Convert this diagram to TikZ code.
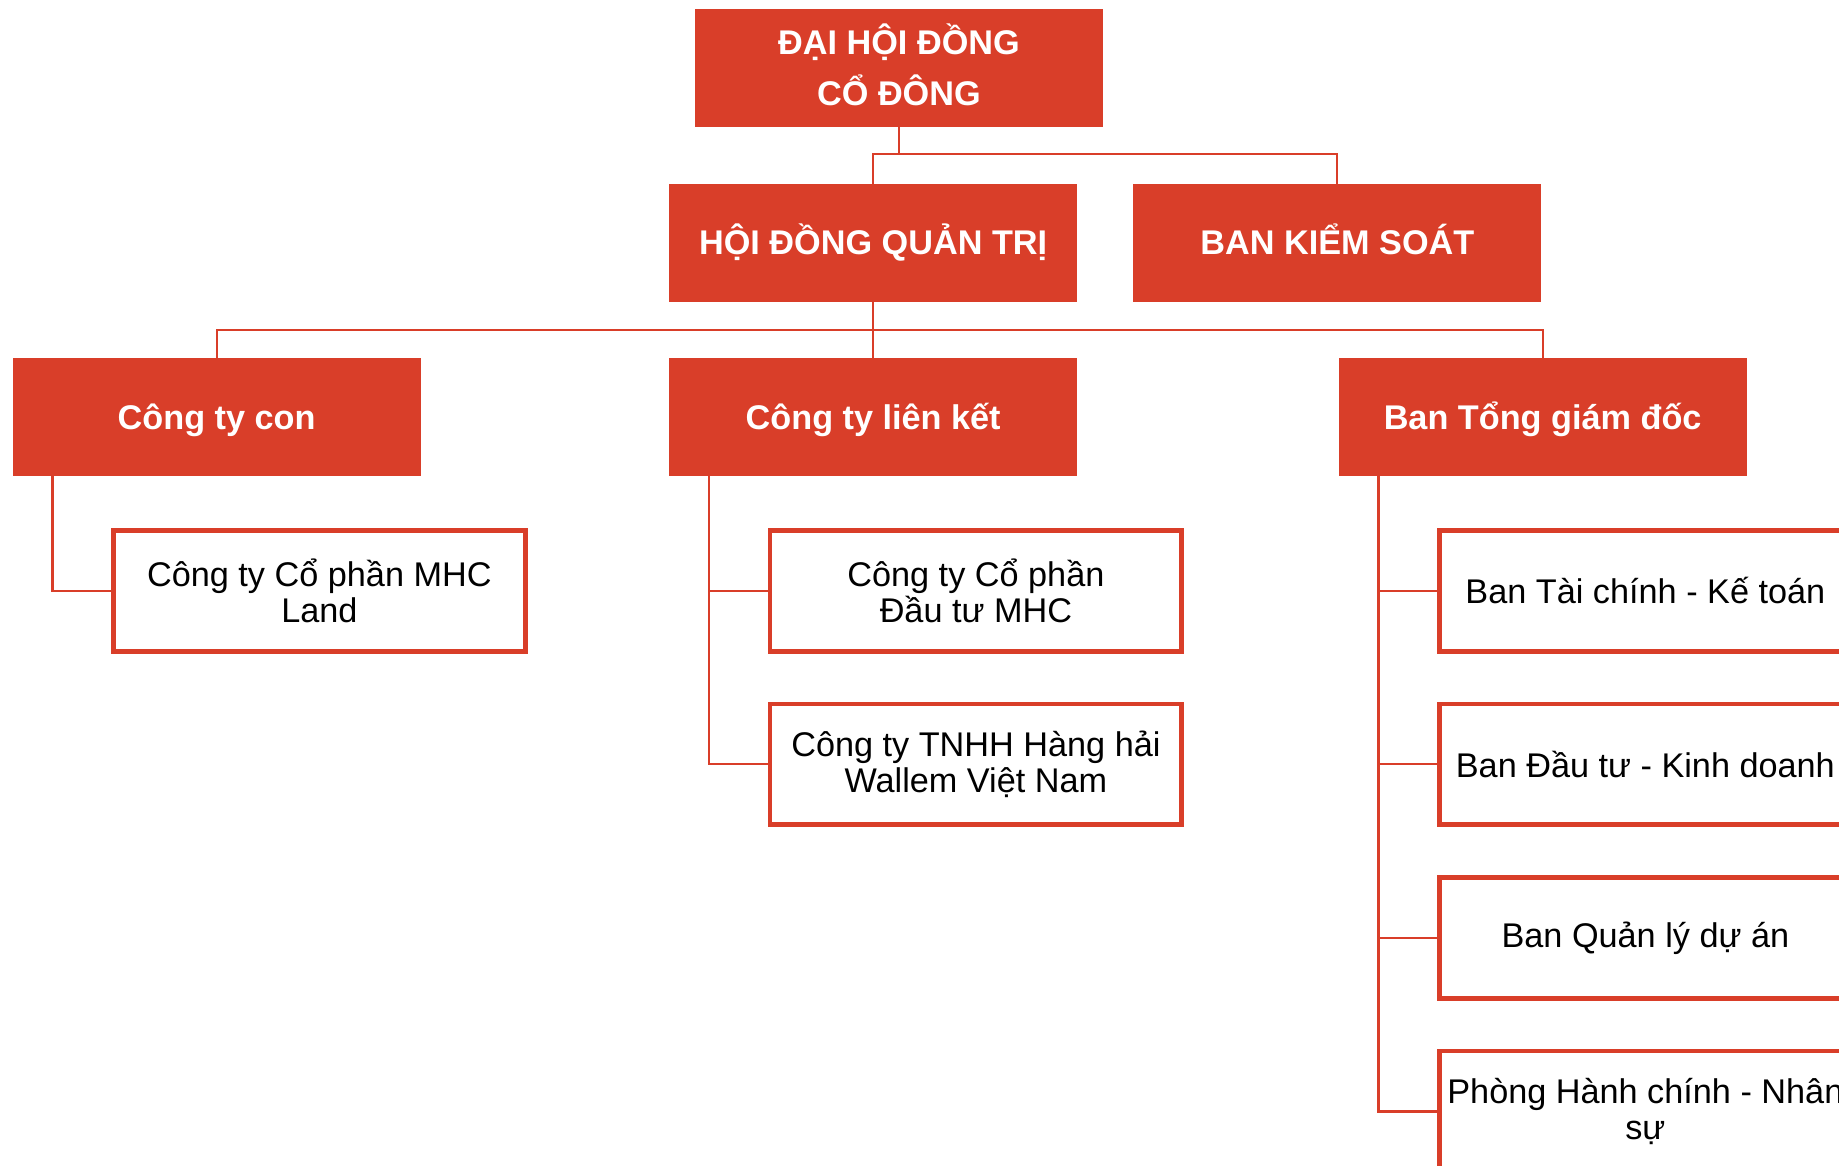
\documentclass[tikz,border=0pt]{standalone}
\usepackage{fontspec}
\setmainfont{Liberation Sans}
\usetikzlibrary{positioning}
\definecolor{mhcred}{RGB}{217,62,41}

\begin{document}
\begin{tikzpicture}[
      redbox/.style = {rectangle, fill=mhcred, draw=mhcred, text=white,
         font=\bfseries\fontsize{14.6pt}{21.5pt}\selectfont, align=center,
         minimum width=173.5pt, minimum height=50pt, inner sep=0pt},
      oneline/.style = {text height=15pt, text depth=5pt},
      subbox/.style = {rectangle, fill=white, draw=mhcred, line width=2pt,
         font=\fontsize{14.6pt}{15.5pt}\selectfont, align=center,
         minimum width=175.5pt, minimum height=51.5pt, inner sep=0pt,
         outer sep=0pt},
      branch/.style = {draw=mhcred, line width=0.9pt}]

      \useasboundingbox (-372.25pt,-393.5pt) rectangle (411.75pt,103.5pt);
      \clip (-372.25pt,-393.5pt) rectangle (411.75pt,103.5pt);

      % board level
      \node[redbox, oneline]                         (hdqt)  {HỘI ĐỒNG QUẢN TRỊ};
      \node[redbox, above=24pt of hdqt, xshift=11pt] (dhcd)
         {ĐẠI HỘI ĐỒNG\\CỔ ĐÔNG\rule[-3pt]{0pt}{0pt}};
      \node[redbox, oneline, right=24pt of hdqt]     (bks)   {BAN KIỂM SOÁT};

      % second row
      \node[redbox, oneline, below=24pt of hdqt]     (ctlk)  {Công ty liên kết};
      \node[redbox, oneline, left=106pt of ctlk]     (ctcon) {Công ty con};
      \node[redbox, oneline, right=111.5pt of ctlk]  (btgd)  {Ban Tổng giám đốc};

      % subsidiary
      \node[subbox, below right=23pt and 43pt of ctcon.south west] (mhcland)
         {Công ty Cổ phần MHC\\Land};

      % associates
      \node[subbox, below right=23pt and 43pt of ctlk.south west]  (dtmhc)
         {Công ty Cổ phần\\Đầu tư MHC};
      \node[subbox, below=22.5pt of dtmhc]                         (wallem)
         {Công ty TNHH Hàng hải\\Wallem Việt Nam};

      % departments
      \node[subbox, below right=23pt and 43pt of btgd.south west]  (tckt)
         {Ban Tài chính - Kế toán};
      \node[subbox, below=22.5pt of tckt]  (dtkd) {Ban Đầu tư - Kinh doanh};
      \node[subbox, below=22.5pt of dtkd]  (qlda) {Ban Quản lý dự án};
      \node[subbox, below=22.5pt of qlda]  (hcns) {Phòng Hành chính - Nhân\\sự};

      % top connectors
      \coordinate[below=11.5pt of dhcd.south] (j1);
      \draw[branch] (dhcd.south) -- (j1);
      \draw[branch] (hdqt.north) |- (j1) -| (bks.north);

      \coordinate[below=12pt of hdqt.south] (j2);
      \draw[branch] (hdqt.south) -- (ctlk.north);
      \draw[branch] (ctcon.north) |- (j2) -| (btgd.north);

      % branches to the boxes below
      \draw[branch] ([xshift=17pt]ctcon.south west) |- (mhcland.west);
      \foreach \c in {dtmhc,wallem}
         \draw[branch] ([xshift=17pt]ctlk.south west) |- (\c.west);
      \foreach \c in {tckt,dtkd,qlda,hcns}
         \draw[branch] ([xshift=17pt]btgd.south west) |- (\c.west);

   \end{tikzpicture}
\end{document}
